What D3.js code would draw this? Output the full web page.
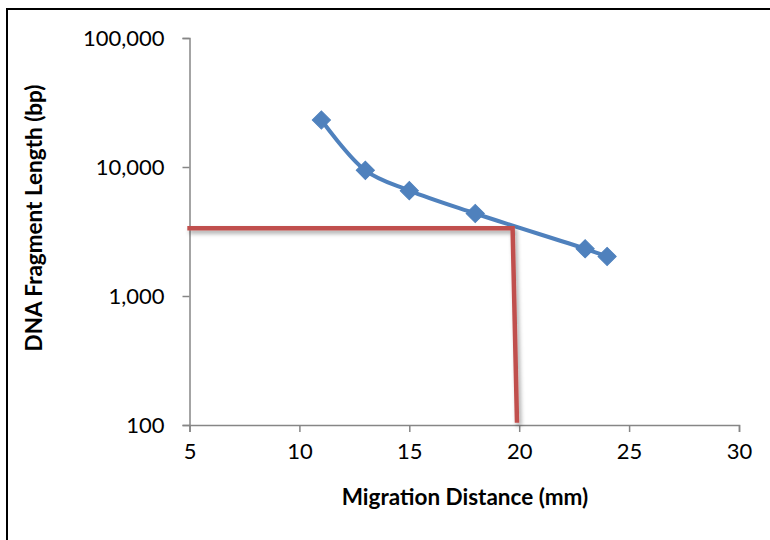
<!DOCTYPE html>
<html>
<head>
<meta charset="utf-8">
<script src="https://cdn.jsdelivr.net/npm/d3@7"></script>
<style>
  html, body { margin: 0; padding: 0; background: #fff; }
  svg { display: block; }
  text { font-family: Lato, "Open Sans", sans-serif; fill: #000; }
</style>
</head>
<body>
<div id="chart"></div>
<script>
// ---- Data ----
const distance = [11, 13, 15, 18, 23, 24];               // mm
const fragmentLength = [23130, 9416, 6557, 4361, 2322, 2027]; // bp
const readX = [4.9, 19.7, 19.9];        // red read-off line (mm)
const readY = [3350, 3350, 104];        // red read-off line (bp)
const xTicks = [5, 10, 15, 20, 25, 30];
const yTicks = [100, 1000, 10000, 100000];
const xTitle = "Migration Distance (mm)";
const yTitle = "DNA Fragment Length (bp)";

const W = 770, H = 540;
const plot = { left: 189.5, right: 739, top: 38, bottom: 425 };

const svg = d3.select("#chart").append("svg").attr("width", W).attr("height", H);

const defs = svg.append("defs");
const f = defs.append("filter").attr("id", "shadow")
  .attr("x", "-20%").attr("y", "-20%").attr("width", "140%").attr("height", "140%");
f.append("feDropShadow").attr("dx", 2).attr("dy", 3).attr("stdDeviation", 2)
  .attr("flood-color", "#000").attr("flood-opacity", 0.35);

// outer frame
svg.append("rect").attr("x", 7).attr("y", 9).attr("width", 800).attr("height", 600)
  .attr("fill", "none").attr("stroke", "#000").attr("stroke-width", 2);

const x = d3.scaleLinear().domain([5, 30]).range([plot.left, plot.right]);
const y = d3.scaleLog().domain([100, 100000]).range([plot.bottom, plot.top]);

const axisColor = "#868686";

// x axis
const gx = svg.append("g").attr("transform", `translate(0,${plot.bottom})`)
  .call(d3.axisBottom(x).tickValues(xTicks).tickSize(7).tickPadding(11).tickFormat(d3.format("d")));
gx.select(".domain").attr("stroke", axisColor).attr("stroke-width", 1.5);
gx.selectAll(".tick line").attr("stroke", axisColor).attr("stroke-width", 1.5);
gx.selectAll(".tick text").attr("font-size", 22).attr("font-family", "Lato").attr("fill", "#000");

// y axis
const gy = svg.append("g").attr("transform", `translate(${plot.left},0)`)
  .call(d3.axisLeft(y).tickValues(yTicks).tickSize(7).tickPadding(18).tickFormat(d3.format(",")));
gy.select(".domain").attr("stroke", axisColor).attr("stroke-width", 1.5);
gy.selectAll(".tick line").attr("stroke", axisColor).attr("stroke-width", 1.5);
gy.selectAll(".tick text").attr("font-size", 22).attr("font-family", "Lato").attr("fill", "#000");

// axis titles
svg.append("text").attr("x", 465).attr("y", 505).attr("text-anchor", "middle")
  .attr("font-size", 22.5).attr("font-weight", "bold").text(xTitle);
svg.append("text").attr("transform", `translate(42,218) rotate(-90)`).attr("text-anchor", "middle")
  .attr("font-size", 22.5).attr("font-weight", "bold").text(yTitle);

// blue data series
const pts = distance.map((d, i) => [d, fragmentLength[i]]);
const line = d3.line().x(d => x(d[0])).y(d => y(d[1])).curve(d3.curveCatmullRom.alpha(0.5));
svg.append("path").datum(pts).attr("d", line).attr("fill", "none")
  .attr("stroke", "#4F81BD").attr("stroke-width", 4).attr("stroke-linejoin", "round");

svg.append("g").selectAll("path").data(pts).join("path")
  .attr("d", d3.symbol(d3.symbolSquare, 165)())
  .attr("transform", d => `translate(${x(d[0])},${y(d[1])}) rotate(45)`)
  .attr("fill", "#4F81BD").attr("stroke", "#4F81BD").attr("stroke-width", 1);

// red read-off line
const red = readX.map((d, i) => [d, readY[i]]);
svg.append("path").datum(red)
  .attr("d", d3.line().x(d => x(d[0])).y(d => y(d[1])))
  .attr("fill", "none").attr("stroke", "#C0504D").attr("stroke-width", 4.5)
  .attr("stroke-linejoin", "miter").attr("filter", "url(#shadow)");
</script>
</body>
</html>
